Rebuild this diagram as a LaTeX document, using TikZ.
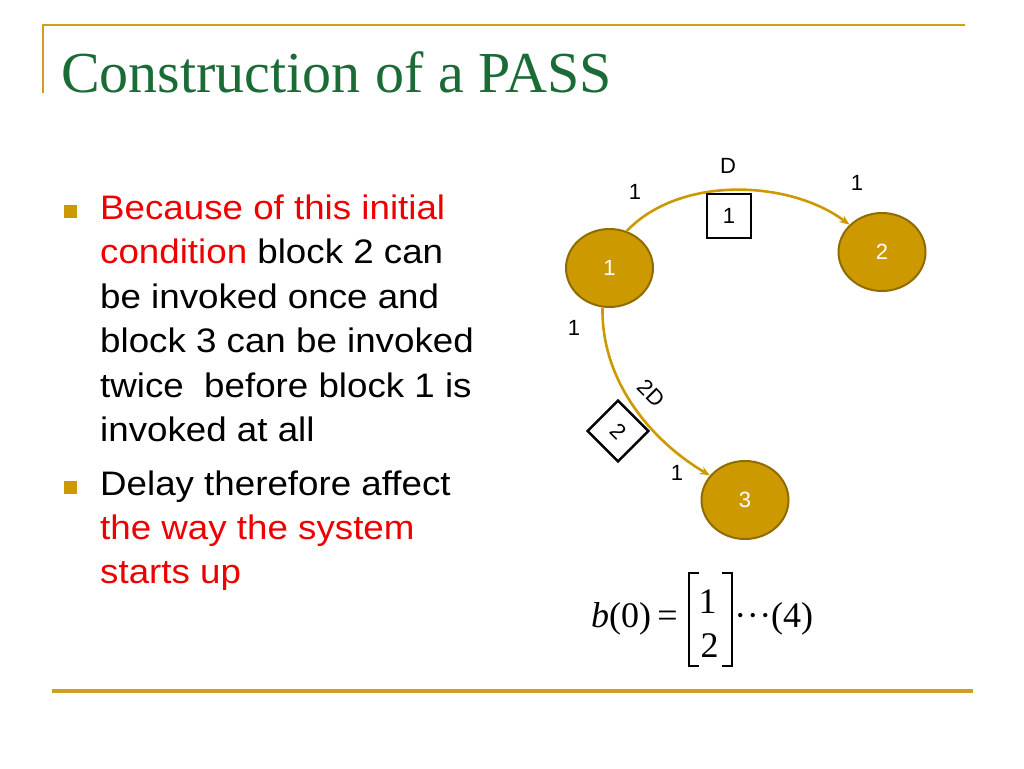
\documentclass[tikz,border=0pt]{standalone}
\usepackage{fontspec}
\setmainfont{Liberation Sans}
\newfontfamily\seriffont{Liberation Serif}
\usetikzlibrary{arrows.meta,shapes.geometric}
\definecolor{gold}{HTML}{CC9900}
\definecolor{golddark}{HTML}{8F6C00}
\definecolor{goldline}{HTML}{CFA020}
\definecolor{titlegreen}{HTML}{1A6B35}
\definecolor{bulletred}{HTML}{EE0000}
\begin{document}
\begin{tikzpicture}[x=1pt,y=-1pt,
  blk/.style={ellipse, fill=gold, draw=golddark, line width=2pt, minimum width=87pt, minimum height=78pt, inner sep=0pt, text=white, font=\fontsize{22}{26}\selectfont},
  lbl/.style={inner sep=0pt, font=\fontsize{22}{26}\selectfont},
  flow/.style={draw=gold, line width=2.6pt, -{Stealth[length=10pt,width=8pt]}},
  txtline/.style={inner sep=0pt, anchor=base west, font=\fontsize{34}{40}\selectfont, xscale=1.08},
  bul/.style={fill=gold, minimum size=13pt, inner sep=0pt},
  eq/.style={inner sep=0pt, anchor=base, font=\seriffont\fontsize{36}{40}\selectfont},
  delaybox/.style={draw, line width=2.4pt, minimum size=44pt, inner sep=0pt, font=\fontsize{22}{26}\selectfont},
  rule/.style={draw=goldline}
]
\useasboundingbox (0,0) rectangle (1024,768);
\fill[white] (0,0) rectangle (1024,768);

% frame lines
\draw[rule, line width=2.8pt] (42,25) -- (965,25);
\draw[rule, line width=2.2pt] (43,25) -- (43,93);
\draw[rule, line width=3.2pt] (52,691) -- (973,691);

% title
\node[inner sep=0pt, anchor=base west, text=titlegreen, font=\seriffont\fontsize{58}{64}\selectfont] (title) at (61,92) {Construction of a PASS};

% bullets
\node[bul] (b1) at (70,211.5) {};
\node[bul] (b2) at (70,487.5) {};

\node[txtline, text=bulletred] (l1) at (100,219) {Because of this initial};
\node[txtline] (l2) at (100,263.5) {\textcolor{bulletred}{condition} block 2 can};
\node[txtline] (l3) at (100,308) {be invoked once and};
\node[txtline] (l4) at (100,352.5) {block 3 can be invoked};
\node[txtline] (l5) at (100,397) {twice~ before block 1 is};
\node[txtline] (l6) at (100,441.5) {invoked at all};
\node[txtline] (l7) at (100,495) {Delay therefore affect};
\node[txtline, text=bulletred] (l8) at (100,539) {the way the system};
\node[txtline, text=bulletred] (l9) at (100,583) {starts up};

% graph
\node[blk] (n1) at (609.5,268) {1};
\node[blk] (n2) at (882,252) {2};
\node[blk] (n3) at (745,500) {3};

\draw[flow] (n1.65) .. controls (680,175) and (790,180) .. (n2.140);
\draw[flow] (n1.260) .. controls (601,380) and (650,440) .. (n3.145);

\node[delaybox, fill=white] (d1) at (729,216) {1};
\node[delaybox, fill=white, minimum size=43pt, rotate=-45] (d2) at (618,431) {2};

\node[lbl] (lD) at (728,166) {D};
\node[lbl] (la) at (635,192) {1};
\node[lbl] (lb) at (857,183) {1};
\node[lbl] (lc) at (574,328) {1};
\node[lbl] (ld) at (677,473) {1};
\node[lbl, rotate=-45] (l2D) at (651,393) {2D};

% equation
\node[eq, anchor=base west] (eqb) at (591,627) {\textit{b}(0)};
\node[eq] (eqeq) at (667.5,627) {=};
\node[eq] (eq1) at (707.5,613) {1};
\node[eq] (eq2) at (709.5,657) {2};
\draw[line width=1.6pt] (699,573) -- (689,573) -- (689,666) -- (699,666);
\draw[line width=1.6pt] (722,573) -- (732,573) -- (732,666) -- (722,666);
\node[eq, anchor=base west] (eqdots) at (734,627) {\makebox[12.5pt]{\textperiodcentered}\makebox[12.5pt]{\textperiodcentered}\makebox[12.5pt]{\textperiodcentered}};
\node[eq, anchor=base west] (eq4) at (771,627) {(4)};
\end{tikzpicture}
\end{document}
